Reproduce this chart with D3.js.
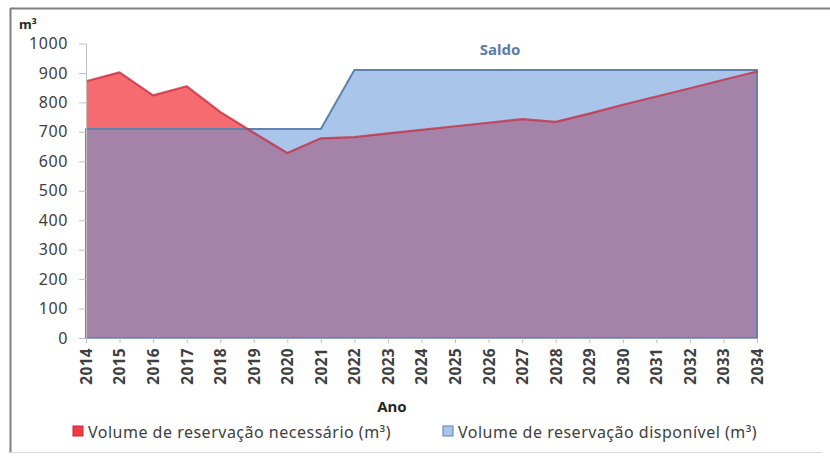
<!DOCTYPE html>
<html><head><meta charset="utf-8">
<script src="https://cdn.jsdelivr.net/npm/d3@7"></script>
<style>
body{margin:0;background:#fff;}
svg{display:block;}
text{font-family:"Noto Sans",sans-serif;}
</style></head>
<body><svg id="c" width="830" height="465"></svg>
<script>
const years = ["2014","2015","2016","2017","2018","2019","2020","2021","2022","2023","2024","2025","2026","2027","2028","2029","2030","2031","2032","2033","2034"];
const necessario = [872, 902, 824, 855, 768, 697, 628, 678, 682, 695, 707, 719, 731, 743, 734, 762, 792, 820, 848, 877, 905];
const disponivel = [710, 710, 710, 710, 710, 710, 710, 710, 910, 910, 910, 910, 910, 910, 910, 910, 910, 910, 910, 910, 910];
const yTicks = [0, 100, 200, 300, 400, 500, 600, 700, 800, 900, 1000];
const seriesNames = ["Volume de reservação necessário (m³)", "Volume de reservação disponível (m³)"];
const titleText = "Saldo";
const xTitle = "Ano";
const yUnit = "m³";

const svg = d3.select("#c");
const x = d3.scalePoint().domain(years).range([86, 757]);
const y = d3.scaleLinear().domain([0, 1000]).range([338, 43.5]);

// frame
svg.append("line").attr("x1",10).attr("x2",830).attr("y1",8.5).attr("y2",8.5).attr("stroke","#7f7f7f").attr("stroke-width",2);
svg.append("line").attr("x1",10.5).attr("x2",10.5).attr("y1",8).attr("y2",453).attr("stroke","#7f7f7f").attr("stroke-width",2);
svg.append("line").attr("x1",10).attr("x2",822).attr("y1",452.5).attr("y2",452.5).attr("stroke","#d9d9d9").attr("stroke-width",1);

const redData = years.map((d,i)=>({k:d,v:necessario[i]}));
const blueData = years.map((d,i)=>({k:d,v:disponivel[i]}));

const area = d3.area().x(d=>x(d.k)).y0(y(0)).y1(d=>y(d.v));
const line = d3.line().x(d=>x(d.k)).y(d=>y(d.v));

svg.append("path").datum(redData).attr("d",area).attr("fill","#f56b70");
svg.append("path").datum(blueData).attr("d",area).attr("fill","rgb(99,151,217)").attr("fill-opacity",0.55)
  .attr("stroke","#5f82af").attr("stroke-width",2).attr("stroke-linejoin","round");
svg.append("path").datum(redData).attr("d",line).attr("fill","none").attr("stroke","#c8283c").attr("stroke-opacity",0.75).attr("stroke-width",2.2).attr("stroke-linejoin","round");

// y axis
const ya = svg.append("g").attr("transform","translate(86,0)")
  .call(d3.axisLeft(y).tickValues(yTicks).tickFormat(d3.format("d")).tickSize(7).tickSizeOuter(0).tickPadding(11));
ya.select(".domain").attr("stroke","#bfbfbf");
ya.selectAll(".tick line").attr("stroke","#bfbfbf");
ya.selectAll(".tick text").attr("fill","#404040").style("font-size","16px").style("letter-spacing","0.6px")
  .style("font-family","'Noto Sans',sans-serif");

// x axis
const xa = svg.append("g").attr("transform",`translate(0,${y(0)})`)
  .call(d3.axisBottom(x).tickSize(5).tickSizeOuter(0).tickPadding(0));
xa.select(".domain").attr("stroke","#8ea3c8");
xa.selectAll(".tick line").attr("stroke","#bfbfbf");
xa.selectAll(".tick text").attr("fill","#404040").style("font-size","15.5px").style("font-weight","bold")
  .style("letter-spacing","0.3px").style("font-family","'Noto Sans',sans-serif")
  .attr("text-anchor","end").attr("transform","rotate(-90)").attr("x",-10).attr("y",0).attr("dy","0.35em");

// titles
svg.append("text").attr("x",500).attr("y",55).attr("text-anchor","middle").attr("fill","#5a7bab")
  .style("font-size","15px").style("font-weight","bold").text(titleText);
svg.append("text").attr("x",392).attr("y",412).attr("text-anchor","middle").attr("fill","#262626")
  .style("font-size","15px").style("font-weight","bold").text(xTitle);
svg.append("text").attr("x",19).attr("y",29).attr("fill","#262626")
  .style("font-size","13px").style("font-weight","bold").text(yUnit);

// legend
const leg = [{x:73, fill:"#f23a48", stroke:"#c8283c", name:seriesNames[0]},
             {x:443, fill:"#a9c6ea", stroke:"#5f82af", name:seriesNames[1]}];
leg.forEach(l=>{
  svg.append("rect").attr("x",l.x).attr("y",426).attr("width",10).attr("height",10)
    .attr("fill",l.fill).attr("stroke",l.stroke).attr("stroke-width",1);
  svg.append("text").attr("x",l.x+15).attr("y",438).attr("fill","#404040")
    .style("font-size","16px").style("letter-spacing","0.5px").text(l.name);
});
</script></body></html>
